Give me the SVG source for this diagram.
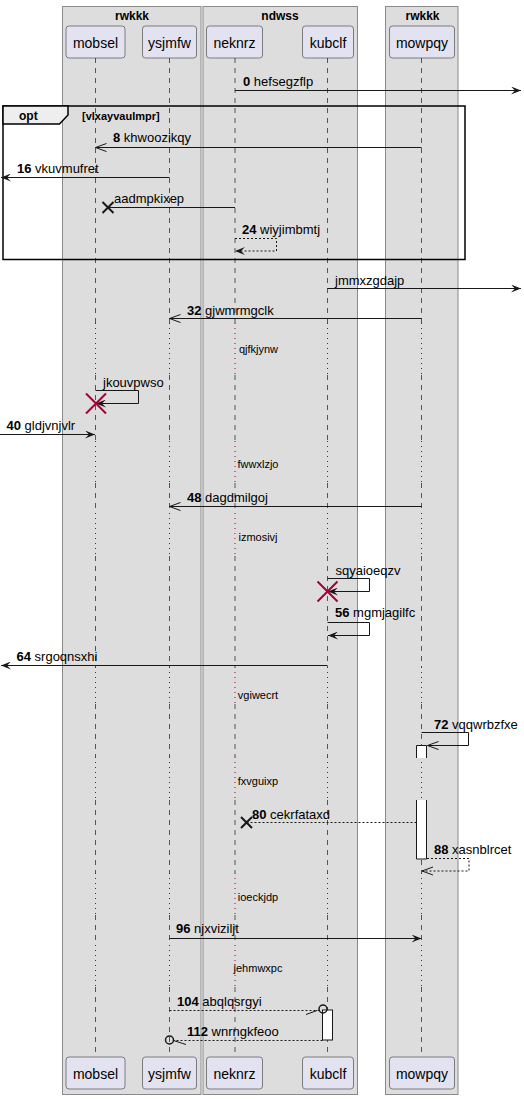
<svg xmlns="http://www.w3.org/2000/svg" width="524" height="1099" viewBox="0 0 524 1099">
<style>
text{font-family:"Liberation Sans",Arial,sans-serif;fill:#000}
.grp{fill:#DDDDDD;stroke:#8A8A8A;stroke-width:1}
.gt{font-size:12px;font-weight:bold;text-anchor:middle}
.pbox{fill:#E2E2F0;stroke:#181818;stroke-width:0.5}
.pt{font-size:14px;text-anchor:middle}
.ll{fill:none;stroke:#555;stroke-width:1;stroke-dasharray:5,5}
.dl{fill:none;stroke:#A80036;stroke-width:1;stroke-dasharray:1,4}
.msg{fill:none;stroke:#181818;stroke-width:1}
.dsh{stroke-dasharray:2,2}
.lbl{font-size:13px}
.num{font-weight:bold}
.dtx{font-size:11px;text-anchor:middle}
.xk{stroke:#181818;stroke-width:2}
.xr{stroke:#A80036;stroke-width:2}
.act{fill:#FFFFFF;stroke:none}
.ae{fill:none;stroke:#181818;stroke-width:1}
</style>
<defs>
<marker id="af" viewBox="0 0 10 8" refX="10" refY="4" markerWidth="10" markerHeight="8" orient="auto" markerUnits="userSpaceOnUse"><path d="M0 0L10 4L0 8L4 4Z" fill="#181818"/></marker>
<marker id="ao" viewBox="-1 -1 13 10" refX="11" refY="4" markerWidth="13" markerHeight="10" orient="auto" markerUnits="userSpaceOnUse"><path d="M0 0L11 4L0 8" fill="none" stroke="#181818" stroke-width="1"/></marker>
<path id="lld" d="M0 58V323M0 375V441M0 483V513M0 556V667M0 704V757M0 800V873M0 915V945M0 987V1057"/>
<path id="lldl" d="M0 323V375M0 441V483M0 513V556M0 667V704M0 757V800M0 873V915M0 945V987"/>
</defs>

<g id="box-rwkkk-1">
<rect class="grp" x="62.5" y="6.5" width="138.5" height="1088"/>
<text class="gt" x="132" y="19.5">rwkkk</text>
</g>
<g id="box-ndwss">
<rect class="grp" x="203" y="6.5" width="154.5" height="1088"/>
<text class="gt" x="280" y="19.5">ndwss</text>
</g>
<g id="box-rwkkk-2">
<rect class="grp" x="385.5" y="6.5" width="72.5" height="1088"/>
<text class="gt" x="422.5" y="19.5">rwkkk</text>
</g>

<g id="lifelines">
<use href="#lld" class="ll" transform="translate(95.5 0)"/>
<use href="#lldl" class="dl" transform="translate(95.5 0)"/>
<use href="#lld" class="ll" transform="translate(169.5 0)"/>
<use href="#lldl" class="dl" transform="translate(169.5 0)"/>
<use href="#lld" class="ll" transform="translate(235 0)"/>
<use href="#lldl" class="dl" transform="translate(235 0)"/>
<use href="#lld" class="ll" transform="translate(327.5 0)"/>
<use href="#lldl" class="dl" transform="translate(327.5 0)"/>
<use href="#lld" class="ll" transform="translate(421.5 0)"/>
<use href="#lldl" class="dl" transform="translate(421.5 0)"/>
</g>

<g id="mobsel">
<rect class="pbox" x="66" y="26" width="59" height="32" rx="3"/>
<text class="pt" x="95.5" y="48">mobsel</text>
<rect class="pbox" x="66" y="1057" width="59" height="32" rx="3"/>
<text class="pt" x="95.5" y="1079">mobsel</text>
</g>
<g id="ysjmfw">
<rect class="pbox" x="142.5" y="26" width="54" height="32" rx="3"/>
<text class="pt" x="169.5" y="48">ysjmfw</text>
<rect class="pbox" x="142.5" y="1057" width="54" height="32" rx="3"/>
<text class="pt" x="169.5" y="1079">ysjmfw</text>
</g>
<g id="neknrz">
<rect class="pbox" x="206.5" y="26" width="56" height="32" rx="3"/>
<text class="pt" x="234.5" y="48">neknrz</text>
<rect class="pbox" x="206.5" y="1057" width="56" height="32" rx="3"/>
<text class="pt" x="234.5" y="1079">neknrz</text>
</g>
<g id="kubclf">
<rect class="pbox" x="302.5" y="26" width="51" height="32" rx="3"/>
<text class="pt" x="328" y="48">kubclf</text>
<rect class="pbox" x="302.5" y="1057" width="51" height="32" rx="3"/>
<text class="pt" x="328" y="1079">kubclf</text>
</g>
<g id="mowpqy">
<rect class="pbox" x="389.5" y="26" width="65" height="32" rx="3"/>
<text class="pt" x="422" y="48">mowpqy</text>
<rect class="pbox" x="389.5" y="1057" width="65" height="32" rx="3"/>
<text class="pt" x="422" y="1079">mowpqy</text>
</g>

<g id="opt-frame">
<rect x="3" y="106" width="462" height="153.5" fill="none" stroke="#000" stroke-width="1.5"/>
<path d="M3 106H68V115L59.5 124H3Z" fill="#EEEEEE" stroke="#000" stroke-width="1.5"/>
<text x="19" y="120" font-size="12" font-weight="bold">opt</text>
<text x="82" y="120" font-size="11" font-weight="bold">[vlxayvaulmpr]</text>
</g>

<g id="activations">
<rect class="act" x="416.5" y="745.5" width="10" height="12.5"/>
<path class="ae" d="M416.5 758V745.5H426.5V758"/>
<rect class="act" x="416.5" y="800" width="10" height="59"/>
<path class="ae" d="M416.5 800V859H426.5V800"/>
<rect x="322.5" y="1010" width="10" height="30" fill="#FFFFFF" stroke="#181818" stroke-width="1"/>
</g>

<g id="connectors">
<path class="msg" d="M235 90.5H521" marker-end="url(#af)"/>
<path class="msg" d="M421.5 147.5H95.5" marker-end="url(#ao)"/>
<path class="msg" d="M169.5 177.5H1" marker-end="url(#af)"/>
<path class="msg" d="M235 207.5H108"/>
<path class="xk" d="M102.5 202L113.5 213M113.5 202L102.5 213"/>
<path class="msg dsh" d="M235 238.5H276.5V251H235" marker-end="url(#af)"/>
<path class="msg" d="M327.5 288.5H521" marker-end="url(#af)"/>
<path class="msg" d="M421.5 318.5H169.5" marker-end="url(#ao)"/>
<path class="msg" d="M95.5 390.5H138.5V403.5H96" marker-end="url(#af)"/>
<path class="xr" d="M86 393.5L106 413.5M106 393.5L86 413.5"/>
<path class="msg" d="M0 434.5H95" marker-end="url(#af)"/>
<path class="msg" d="M421.5 506.5H169.5" marker-end="url(#ao)"/>
<path class="msg" d="M327.5 578.5H369.5V591.5H328" marker-end="url(#af)"/>
<path class="xr" d="M317.5 581.5L337.5 601.5M337.5 581.5L317.5 601.5"/>
<path class="msg" d="M327.5 622.5H369.5V635.5H328" marker-end="url(#af)"/>
<path class="msg" d="M327.5 665.5H1" marker-end="url(#af)"/>
<path class="msg" d="M421.5 732.5H468.5V745.5H427.5" marker-end="url(#ao)"/>
<path class="msg dsh" d="M416.5 822.5H247"/>
<path class="xk" d="M241 817L252 828M252 817L241 828"/>
<path class="msg dsh" d="M427 858.5H469V871H422" marker-end="url(#ao)"/>
<path class="msg" d="M169.5 938.5H421.5" marker-end="url(#af)"/>
<path class="msg dsh" d="M169.5 1010.5H319"/>
<circle cx="323" cy="1009" r="4" fill="none" stroke="#181818" stroke-width="1.5"/>
<path class="msg" d="M306 1014.5L317 1010.5"/>
<path class="msg dsh" d="M322.5 1040.5H173.5"/>
<circle cx="169.5" cy="1040" r="4" fill="none" stroke="#181818" stroke-width="1.5"/>
<path class="msg" d="M173.5 1040.5L186 1044.5"/>
</g>

<g id="labels">
<text class="lbl" x="243" y="86"><tspan class="num">0</tspan> hefsegzflp</text>
<text class="lbl" x="113" y="142"><tspan class="num">8</tspan> khwoozikqy</text>
<text class="lbl" x="17" y="172.5"><tspan class="num">16</tspan> vkuvmufret</text>
<text class="lbl" x="114" y="203">aadmpkixep</text>
<text class="lbl" x="242" y="233.5"><tspan class="num">24</tspan> wiyjimbmtj</text>
<text class="lbl" x="335" y="284.5">jmmxzgdajp</text>
<text class="lbl" x="187" y="314.5"><tspan class="num">32</tspan> gjwmrmgclk</text>
<text class="dtx" x="258.5" y="353">qjfkjynw</text>
<text class="lbl" x="103" y="386.5">jkouvpwso</text>
<text class="lbl" x="6.5" y="429.5"><tspan class="num">40</tspan> gldjvnjvlr</text>
<text class="dtx" x="258" y="468">fwwxlzjo</text>
<text class="lbl" x="187" y="502"><tspan class="num">48</tspan> dagdmilgoj</text>
<text class="dtx" x="258" y="540.5">izmosivj</text>
<text class="lbl" x="335.5" y="574.5">sqyaioeqzv</text>
<text class="lbl" x="335" y="617"><tspan class="num">56</tspan> mgmjagilfc</text>
<text class="lbl" x="16.5" y="661"><tspan class="num">64</tspan> srgoqnsxhi</text>
<text class="dtx" x="258" y="699">vgiwecrt</text>
<text class="lbl" x="434" y="728.5"><tspan class="num">72</tspan> vqqwrbzfxe</text>
<text class="dtx" x="258" y="784.5">fxvguixp</text>
<text class="lbl" x="252" y="818.5"><tspan class="num">80</tspan> cekrfataxd</text>
<text class="lbl" x="434" y="853.5"><tspan class="num">88</tspan> xasnblrcet</text>
<text class="dtx" x="258" y="900.5">ioeckjdp</text>
<text class="lbl" x="176" y="932.5"><tspan class="num">96</tspan> njxviziljt</text>
<text class="dtx" x="258" y="972">jehmwxpc</text>
<text class="lbl" x="177" y="1006"><tspan class="num">104</tspan> abqlqsrgyi</text>
<text class="lbl" x="187" y="1035.5"><tspan class="num">112</tspan> wnrngkfeoo</text>
</g>
</svg>
